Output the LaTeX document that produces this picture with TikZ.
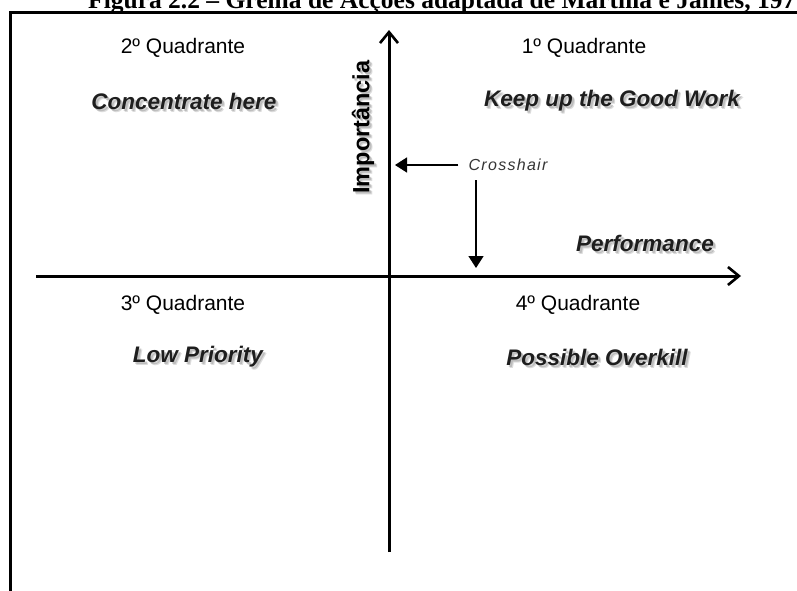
\documentclass[tikz,border=0pt]{standalone}
\usepackage{fontspec}
\setmainfont{Liberation Sans}
\newfontfamily\captionserif{Liberation Serif}
\newfontfamily\hairfont[LetterSpace=8]{Liberation Sans}
\definecolor{InkGrey}{HTML}{1E1E1E}
\definecolor{ShadowGrey}{HTML}{8C8C8C}
\usetikzlibrary{arrows.meta}

\tikzset{
  axis/.style={line width=3pt, -{Straight Barb[length=11pt, width=18pt, line width=2.6pt]}},
  pointer/.style={line width=1.5pt, -{Triangle[length=12pt, width=15pt]}},
  quadrant/.style={font=\fontsize{21}{24}\selectfont, inner sep=0pt},
  motto/.style={font=\fontsize{22.5}{26}\selectfont\bfseries\itshape, text=InkGrey, inner sep=0pt},
  axislabel/.style={font=\fontsize{23.5}{26}\selectfont\bfseries, inner sep=0pt, rotate=90},
}

% bold label with a soft drop shadow: [style] name, position, text
\newcommand\shadowlabel[4][motto]{%
  \foreach \k/\o in {2/0.4,3/0.3}
    \node[xshift=\k pt, yshift=-\k pt, #1, text=ShadowGrey, opacity=\o] (#2-sh\k) at (#3) {#4};
  \node[#1] (#2) at (#3) {#4};}

\begin{document}
\begin{tikzpicture}[x=1pt, y=-1pt]
  \useasboundingbox (0,0) rectangle (797,590);
  \clip (0,0) rectangle (797,590);

  % caption, cut at the top edge
  \node[anchor=base west, inner sep=0pt, font=\captionserif\bfseries\fontsize{25.5}{28}\selectfont]
    (caption) at (88,8) {Figura 2.2 – Grelha de Acções adaptada de Martilla e James, 1977};

  % frame
  \draw[line width=3pt] (10.5,600) -- (10.5,12.5) -- (810,12.5);

  % axes
  \coordinate (west) at (36,276);
  \coordinate (east) at (741,276);
  \coordinate (south) at (389,552);
  \coordinate (north) at (389,30);
  \draw[axis] (west) -- (east);
  \draw[axis] (south) -- (north);
  \shadowlabel[axislabel]{importancia}{363,127}{Importância}
  \shadowlabel{performance}{645,243}{Performance}

  % crosshair
  \node[font=\hairfont\itshape\fontsize{16}{18}\selectfont, text=InkGrey!90, inner sep=0pt]
    (crosshair) at (508,165) {Crosshair};
  \coordinate (imp-mark) at (395,165);
  \coordinate (perf-mark) at (476,268);
  \draw[pointer, shorten <=10pt] (crosshair.west) -- (imp-mark);
  \draw[pointer, shorten <=9pt] (crosshair.south -| perf-mark) -- (perf-mark);

  % quadrants
  \node[quadrant] (quad1) at (584,48) {1º Quadrante};
  \node[quadrant] (quad2) at (183,48) {2º Quadrante};
  \node[quadrant] (quad3) at (183,305) {3º Quadrante};
  \node[quadrant] (quad4) at (578,305) {4º Quadrante};
  \shadowlabel{keepup}{612,101}{Keep up the Good Work}
  \shadowlabel{concentrate}{184,101}{Concentrate here}
  \shadowlabel{lowprio}{198,357}{Low Priority}
  \shadowlabel{overkill}{597,357}{Possible Overkill}
\end{tikzpicture}
\end{document}
